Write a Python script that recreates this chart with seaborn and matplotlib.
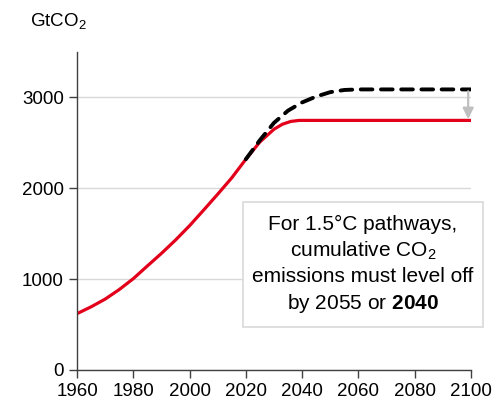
import matplotlib
matplotlib.use("Agg")
import matplotlib.pyplot as plt
import seaborn as sns
import pandas as pd
from matplotlib.patches import Rectangle

# cumulative CO2 (GtCO2)
red_years = [1960, 1965, 1970, 1975, 1980, 1985, 1990, 1995, 2000, 2005, 2010,
             2015, 2020, 2025, 2030, 2033, 2036, 2039, 2100]
red_vals = [620, 695, 780, 885, 1005, 1145, 1283, 1430, 1588, 1760, 1935,
            2115, 2320, 2510, 2650, 2705, 2736, 2747, 2747]

black_years = [2020, 2025, 2030, 2035, 2040, 2045, 2050, 2055, 2060, 2100]
black_vals = [2320, 2530, 2720, 2855, 2945, 3010, 3058, 3082, 3088, 3088]

x_ticks = [1960, 1980, 2000, 2020, 2040, 2060, 2080, 2100]
y_ticks = [0, 1000, 2000, 3000]

sns.set_style("ticks")
plt.rcParams['font.family'] = ['Liberation Sans', 'DejaVu Sans']
plt.rcParams['text.color'] = 'black'
plt.rcParams['mathtext.fontset'] = 'custom'
plt.rcParams['mathtext.rm'] = 'Liberation Sans'
plt.rcParams['mathtext.bf'] = 'Liberation Sans:bold'
plt.rcParams['mathtext.it'] = 'Liberation Sans:italic'

red_df = pd.DataFrame({'year': red_years, 'val': red_vals})
black_df = pd.DataFrame({'year': black_years, 'val': black_vals})

fig = plt.figure(figsize=(5.01, 4.09), dpi=100)
ax = fig.add_axes([0.1537, 0.0954, 0.7864, 0.7775])

ax.yaxis.grid(True, color='#D9D9D9', lw=1)
ax.set_axisbelow(True)

sns.lineplot(data=red_df, x='year', y='val', ax=ax, color='#E2001A', lw=2.3)
sns.lineplot(data=black_df, x='year', y='val', ax=ax, color='black', lw=2.8,
             dashes=False, linestyle=(0, (3.0, 2.2)), dash_capstyle='round')

ax.annotate('', xy=(2099, red_vals[-1] + 15), xytext=(2099, black_vals[-1] - 20),
            arrowprops=dict(arrowstyle='-|>', color='#BFBFBF', lw=1.6,
                            mutation_scale=16, shrinkA=0, shrinkB=0))

ax.set_xlim(1960, 2100)
ax.set_ylim(0, 3500)
ax.set_xticks(x_ticks)
ax.set_yticks(y_ticks)
ax.tick_params(labelsize=13.5, colors='#404040', labelcolor='black', length=6, width=1)
ax.set_xlabel('')
ax.set_ylabel('')
for s in ['top', 'right']:
    ax.spines[s].set_visible(False)
for s in ['left', 'bottom']:
    ax.spines[s].set_color('#404040')
    ax.spines[s].set_linewidth(1)

fig.text(0.116, 0.948, r'GtCO$_2$', fontsize=13.5, ha='center', va='center')

# text box
box = Rectangle((0.421, 0.135), 0.609, 0.393, transform=ax.transAxes,
                facecolor='white', edgecolor='#D9D9D9', lw=1.2, clip_on=False,
                zorder=4)
ax.add_patch(box)
ax.text(0.726, 0.330,
        'For 1.5°C pathways,\ncumulative CO$_2$\nemissions must level off\n'
        r'by 2055 or $\mathbf{2040}$',
        transform=ax.transAxes, ha='center', va='center', fontsize=15,
        linespacing=1.35, zorder=5)

fig.savefig('out.png', dpi=100, facecolor='white')
